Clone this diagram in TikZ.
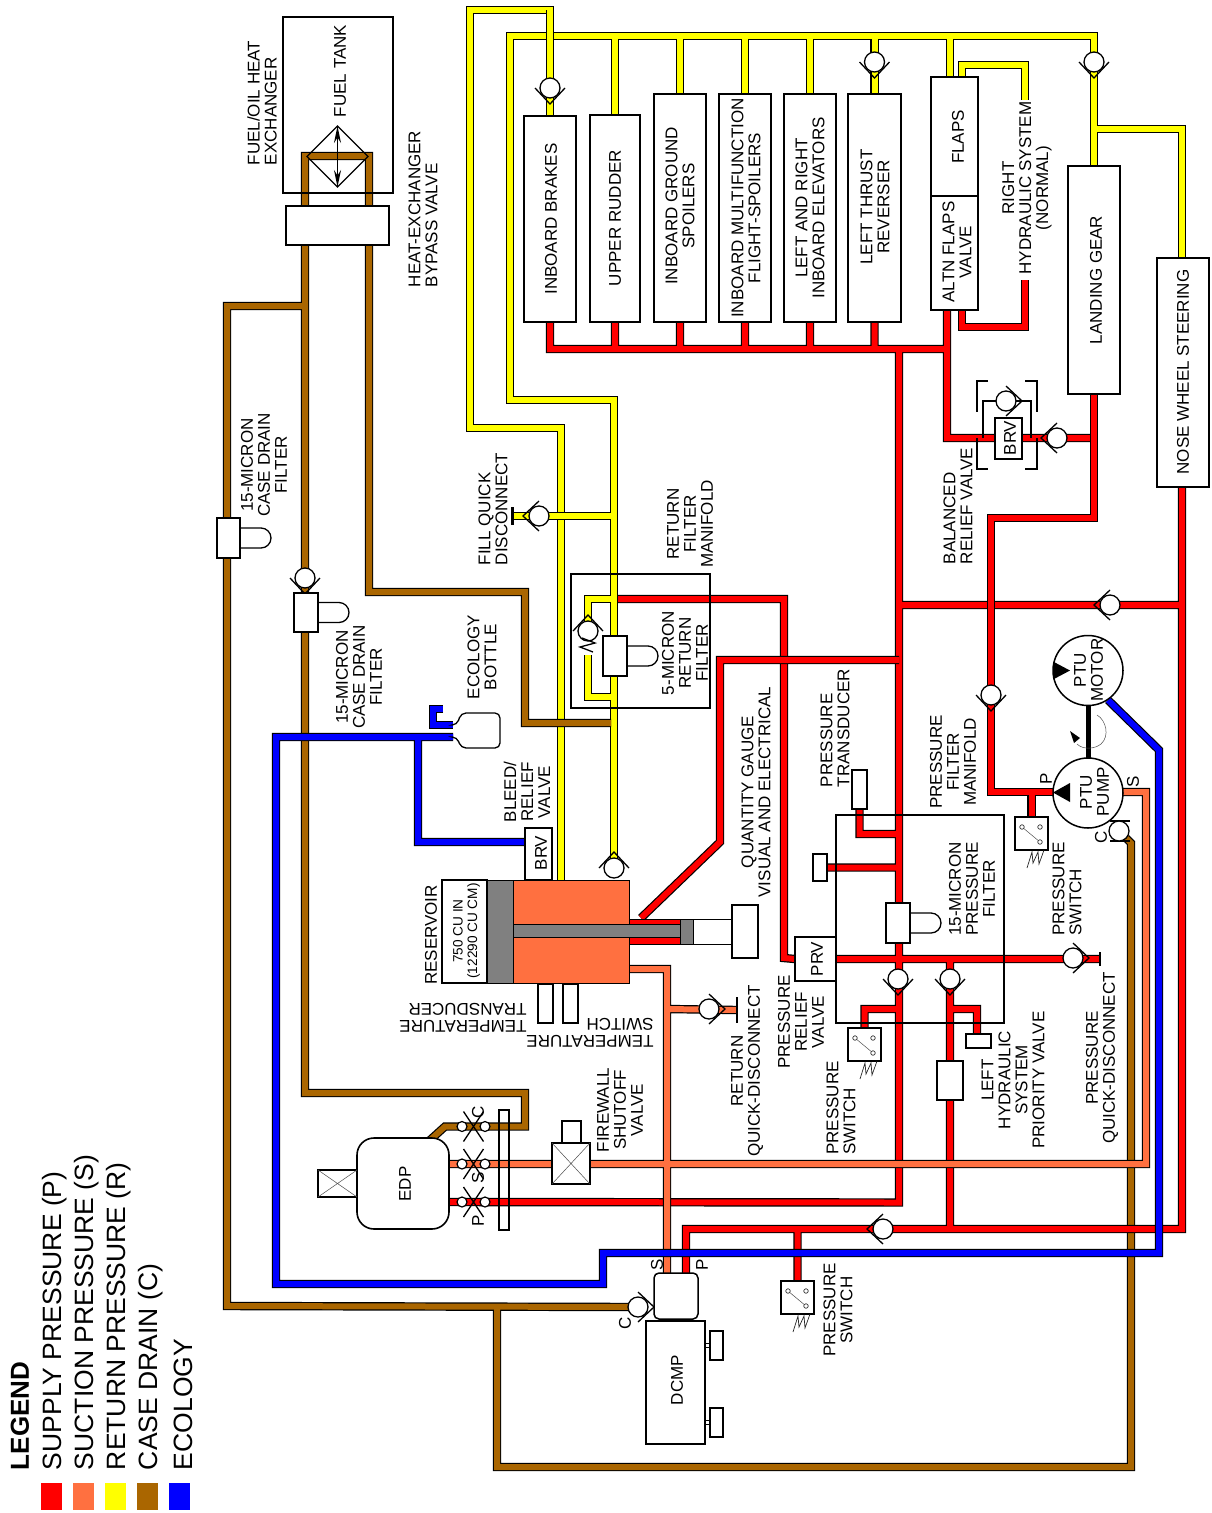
\documentclass[tikz,border=0pt]{standalone}
\usepackage{fontspec}
\setmainfont{Liberation Sans}
\usetikzlibrary{arrows.meta}
\pgfdeclarelayer{pipes}
\pgfsetlayers{pipes,main}
\definecolor{pRed}{RGB}{255,0,0}
\definecolor{pOra}{RGB}{255,112,64}
\definecolor{pYel}{RGB}{255,255,0}
\definecolor{pBro}{RGB}{170,102,0}
\definecolor{pBlu}{RGB}{0,0,255}
\definecolor{pGry}{RGB}{128,128,128}
\tikzset{
  pipeout/.style={line width=8.4pt,black,miter limit=10},
  pipein/.style={line width=6pt,miter limit=10},
  boxst/.style={draw=black,line width=1.8pt,fill=white,inner sep=0pt,outer sep=0pt,rectangle},
  frame/.style={boxst,fill=none},
  thinb/.style={boxst,line width=1.3pt},
  legendsq/.style={rectangle,inner sep=0pt,outer sep=0pt},
  valvec/.style={circle,draw=black,fill=white,line width=1.3pt,minimum size=20pt,inner sep=0pt,outer sep=0pt},
  valveline/.style={draw=black,line width=1.3pt},
  thinline/.style={draw=black,line width=1.3pt},
  hair/.style={draw=black!70,line width=.5pt},
  sprg/.style={draw=black!85,line width=.7pt},
  lbl/.style={rotate=90,inner sep=0pt,outer sep=0pt,font={\fontsize{17}{17}\selectfont}},
  flatlbl/.style={rotate=180,inner sep=0pt,outer sep=0pt,font={\fontsize{17}{17}\selectfont}},
  legtxt/.style={rotate=90,anchor=west,inner sep=0pt,outer sep=0pt,font={\fontsize{26.5}{26.5}\selectfont}},
  qdot/.style={circle,draw=black,fill=white,line width=1.2pt,minimum size=10pt,inner sep=0pt,outer sep=0pt},
}
\newcounter{labn}
\newcommand\lab[4][center]{\stepcounter{labn}\node[lbl,align=#1] (t\thelabn) at (#2,#3) {#4};}
\newcommand\bx[6][boxst]{\node[#1,minimum width={#5-#3},minimum height={#6-#4}] (#2) at ({(#3+#5)/2},{(#4+#6)/2}) {};}
\newcommand\pipe[2]{\draw[pipeout] #2; \draw[pipein,draw=#1] #2;}
\newcommand\cv[4]{\node[valvec] (#1) at (#2,#3) {};
  \draw[valveline,shift={(#1.center)},rotate=#4] (-15,0) -- (0,16) -- (15,0);}
\newcommand\filt[5]{%
  \filldraw[thinline,fill=white] (#4,{(#3+#5)/2-10}) -- ({#4+21},{(#3+#5)/2-10}) arc[start angle=90,end angle=-90,radius=10pt] -- (#4,{(#3+#5)/2+10}) -- cycle;
  \bx[thinb]{#1}{#2}{#3}{#4}{#5}}
\newcommand\psw[3]{\bx{#1}{#2}{#3}{#2+33}{#3+33}
  \begin{scope}[shift={(#2,#3)}]
  \draw[hair] (7,10) -- (25,25);
  \node[qdot,draw=black!80,line width=.7pt,minimum size=4.5pt] (#1a) at (7,10) {};
  \node[qdot,draw=black!80,line width=.7pt,minimum size=4.5pt] (#1b) at (25,10) {};
  \node[qdot,draw=black!80,line width=.7pt,minimum size=4.5pt] (#1c) at (25,25) {};
  \draw[sprg] (12,51) -- (17,35) -- (18,46) -- (23,35) -- (24,47) -- (29,33);
  \end{scope}}
\newcommand\qd[2]{\node[qdot] (#1a) at (462,#2) {}; \node[qdot] (#1b) at (485,#2) {};
  \draw[thinline] (463.5,#2-15) -- (483.5,#2+15) (483.5,#2-15) -- (463.5,#2+15);}
\begin{document}
\begin{tikzpicture}[x=1pt,y=-1pt]
\useasboundingbox (0,0) rectangle (1212,1513);
% helper rails
\coordinate (ytop) at (0,36);
\coordinate (rbus) at (0,349);
\coordinate (rhsY) at (1025,100);
\coordinate (rhsR) at (1025,280);
\coordinate (bottleA) at (453,737);
\coordinate (bottleB) at (453,725);
\coordinate (bottleTail) at (443,709);
\coordinate (retJoin) at (611,723);
\coordinate (rFrom) at (618,599);
\coordinate (resOut) at (641,918);
\coordinate (resS) at (629,969);
\coordinate (edpC) at (429,1141);
\coordinate (edpS) at (449,1164);
\coordinate (edpP) at (449,1202);
\coordinate (pumpP) at (1056,792);
\coordinate (pumpS) at (1118,792);
\coordinate (pumpC) at (1126,838);
\coordinate (motorB) at (1108,700);
% frames
\bx[frame]{tank}{283}{17}{393}{193}
\bx[frame]{retman}{571}{574}{710}{708}
\bx[frame]{presman}{836}{815}{1004}{1023}
% heat exchanger
\draw[thinline] (337.5,126) -- (368,156.5) -- (337.5,187) -- (307,156.5) -- cycle;
\draw[thinline,<->,>={Stealth[length=17pt,width=7pt]}] (337.5,126) -- (337.5,187);
\bx{bypass}{286}{206}{389}{245}
% system boxes
\bx{brakes}{524}{116}{576}{322}
\bx{rudder}{590}{115}{640}{322}
\bx{spoil}{654}{94}{706}{322}
\bx{multi}{719}{94}{771}{322}
\bx{elev}{784}{94}{836}{322}
\bx{thrust}{848}{94}{901}{322}
\bx{flaps}{931}{77}{978}{196}
\bx{altn}{931}{196}{978}{310}
\bx{gear}{1068}{166}{1120}{394}
\bx{nws}{1157}{258}{1209}{487}
% BRV group
\draw[thinline] (988,381) -- (977,381) -- (977,412) (1025,381) -- (1037,381) -- (1037,412)
  (977,438) -- (977,469) -- (988,469) (1037,438) -- (1037,469) -- (1025,469);
\draw[thinline,line width=1.6pt] (983,438) -- (983,401) -- (1031,401) -- (1031,438);
\bx{brvb}{995}{418}{1022}{459}
\cv{vBrvIn}{1006}{401}{90}
\cv{vBrvOut}{1057}{438}{270}
% check valves
\cv{vBrk}{550}{88}{0}
\cv{vThr}{874.5}{62}{0}
\cv{vGear}{1094}{62}{0}
\cv{vFill}{539}{516}{270}
\cv{vMan}{588}{631}{180}
\draw[thinline] (582,638) -- (595,643) -- (580,647) -- (593,652);
\cv{vRet}{614}{868}{180}
\cv{vCase}{305}{578}{0}
\cv{vPf}{991}{695}{0}
\cv{vA}{898}{979}{0}
\cv{vB}{950}{979}{0}
\cv{vTie}{1110}{605}{270}
\cv{vPqd}{1073}{958}{90}
\cv{vRqd}{709}{1009}{90}
\cv{vDcmp}{883}{1229}{270}
\cv{vDcase}{638}{1307}{90}
% disconnect bars
\bx[thinb,line width=1.6pt]{barFill}{512}{508}{513}{524}
\bx[thinb,line width=1.6pt]{barP}{1099.5}{953}{1100.5}{965}
\bx[thinb,line width=1.6pt]{barR}{736.5}{998}{737.5}{1022}
% filters
\filt{fCase1}{217}{518}{240}{558}
\filt{fCase2}{294}{593}{318}{632}
\filt{fRet}{603}{636}{627}{676}
\filt{fPres}{886}{903}{910}{943}
% ecology bottle
\draw[thinline,rounded corners=5pt] (453,725) -- (457,725) -- (461,713) -- (500,713) -- (500,748) -- (461,748) -- (457,737) -- (453,737);
\node[inner sep=0pt,outer sep=0pt,minimum width=0pt] (bottle) at (480,730) {};
% reservoir
\bx[thinb,line width=1.5pt]{resW}{442}{880}{487}{983}
\bx[thinb,fill=pGry,line width=1pt]{resG}{487}{880}{513}{983}
\bx[thinb,fill=pOra,line width=1pt]{resO}{513}{880}{629}{983}
\bx[thinb,fill=pRed,line width=1pt]{resRed}{629}{919}{680}{944}
\bx[thinb,fill=pGry,line width=1pt]{rod}{513}{924}{680}{937}
\bx[thinb,fill=pGry,line width=1pt]{resGb}{680}{919}{693}{944}
\bx[thinb,line width=1pt]{resWb}{693}{919}{732}{944}
\bx[thinb]{resEnd}{732}{905}{758}{958}
\bx[thinb]{brvRes}{525}{828}{552}{880}
\bx[thinb]{tt}{538}{984}{553}{1023}
\bx[thinb]{ts}{563}{984}{578}{1023}
% pressure section
\bx{prv}{795}{937}{836}{981}
\bx{ptrans}{852}{770}{867}{809}
\bx{smallA}{813}{854}{827}{881}
\bx{smallB}{966}{1034}{991}{1048}
\bx{prio}{937}{1061}{963}{1100}
\psw{swA}{1015}{817}
\psw{swB}{848}{1028}
\psw{swC}{781}{1281}
% PTU
\draw[thinline] (1130,821) -- (1110,821) (1130,841) -- (1110,841);
\node[valvec] (vPtuC) at (1119,831) {};
\node[circle,draw=black,fill=white,line width=1.5pt,minimum size=70pt,inner sep=0pt,outer sep=0pt] (motor) at (1088,670.5) {};
\node[circle,draw=black,fill=white,line width=1.5pt,minimum size=70pt,inner sep=0pt,outer sep=0pt] (pump) at (1088,793) {};
\draw[line width=5pt,black] (motor.south) -- (pump.north);
\fill[black] (1070,670.5) -- (1053,661.5) -- (1053,679.5) -- cycle;
\fill[black] (1053,792.5) -- (1070,783) -- (1070,802) -- cycle;
\draw[hair] (1097,715) .. controls (1106,720) and (1110,736) .. (1101,744) .. controls (1095,749) and (1083,750) .. (1077,744);
\fill[black] (1070,731) -- (1080,738) -- (1074,743) -- cycle;
% EDP and firewall
\node[boxst,line width=1.6pt,rounded corners=17pt,minimum width=92pt,minimum height=91pt] (edp) at (403,1183.5) {};
\bx[thinb]{edpShaft}{318}{1170}{357}{1197}
\draw[hair] (edpShaft.north west) -- (edpShaft.south east) (edpShaft.north east) -- (edpShaft.south west);
\qd{qC}{1126.5}
\qd{qS}{1164}
\qd{qP}{1202}
\bx[frame]{fwBar}{499}{1110}{509}{1230}
\bx{fwUp}{562}{1121}{581}{1143}
\bx{fwV}{552}{1143}{590}{1184}
\draw[hair] (fwV.north west) -- (fwV.south east) (fwV.north east) -- (fwV.south west);
% DCMP
\node[boxst,line width=1.5pt,rounded corners=5pt,minimum width=44pt,minimum height=46pt] (dcmpTop) at (676,1296) {};
\bx{dcmp}{646}{1321}{705}{1444}
\bx[thinb,line width=1pt]{lnkA}{705}{1343}{710}{1347}
\bx[thinb,line width=1pt]{lnkB}{705}{1420}{710}{1424}
\bx{dcA}{710}{1331}{723}{1360}
\bx{dcB}{710}{1408}{723}{1437}
% pipes
\begin{pgfonlayer}{pipes}
\pipe{pYel}{(brakes.north) -- (550,10) -- (470,10) -- (470,428) -- (561,428) -- (561,880)}
\pipe{pYel}{(vRet.center) -- (614,400) -- (510,400) -- (510,36) -- (1094,36) -- (gear.north)
  (rudder.north) -- (rudder.north |- ytop)
  (spoil.north) -- (spoil.north |- ytop)
  (multi.north) -- (multi.north |- ytop)
  (elev.north) -- (elev.north |- ytop)
  (thrust.north) -- (thrust.north |- ytop)
  ([xshift=-4.5pt]flaps.north) -- ([xshift=-4.5pt]flaps.north |- ytop)
  (1094,129) -- (1182,129) -- ([xshift=-1pt]nws.north)
  (barFill.center) -- (614,516)
  (614,599) -- (588,599) -- (vMan.center)
  (588,655) -- (588,697) -- (614,697)}
\pipe{pYel}{(brakes.north) -- (550,10)}
\pipe{pYel}{([xshift=7.5pt]flaps.north) -- (962,65) -- (1025,65) -- (rhsY)}
\pipe{pBro}{(retJoin) -- (525,723) -- (525,592) -- (369,592) -- (369,156) -- (305,156) -- (305,1093) -- (525,1093) -- (525,1126.5) -- (445,1126.5) -- (edpC)
  (305,306) -- (227,306) -- (227,1306) -- (vDcase.center)
  (497,1306) -- (497,1467) -- (1131,1467) -- (1131,843) -- (pumpC)}
\pipe{pRed}{(brakes.south) -- (brakes.south |- rbus) -- (947,349) -- (947,438) -- (1094,438)
  (rudder.south) -- (rudder.south |- rbus)
  (spoil.south) -- (spoil.south |- rbus)
  (multi.south) -- (multi.south |- rbus)
  (elev.south) -- (elev.south |- rbus)
  (thrust.south) -- (thrust.south |- rbus)
  ([xshift=-7.5pt]altn.south) -- ([xshift=-7.5pt]altn.south |- rbus)
  (899,349) -- (899,1202.5) -- (edpP)
  (899,605) -- (1182,605)
  ([xshift=-1pt]nws.south) -- (1182,1229) -- (686,1229) -- (686,1275)
  (swC.north) -- (797.5,1229)
  (950,958) -- (950,1229)
  (950,1009) -- (977,1009) -- (977,1034)
  (899,1009) -- (864.5,1009) -- (swB.north)
  (ptrans.south) -- (859.5,834) -- (899,834)
  (smallA.east) -- (899,867.5)
  (prv.east) -- (barP.center)}
\pipe{pRed}{(gear.south) -- (1094,518) -- (991,518) -- (991,792) -- (pumpP)
  (swA.north) -- (swA.north |- pumpP)}
\pipe{pRed}{([xshift=7.5pt]altn.south) -- (962,327) -- (1025,327) -- (rhsR)}
\pipe{pRed}{(rFrom) -- (784,599) -- (784,958) -- (prv.west)}
\pipe{pRed}{(899,660) -- (720,660) -- (720,842) -- (resOut)}
\pipe{pOra}{(resS) -- (667,969) -- (667,1275) (667,1009) -- (barR.center)
  (edpS) -- (1146,1164) -- (1146,792) -- (pumpS)}
\pipe{pBlu}{(motorB) -- (1159,750) -- (1159,1253) -- (603,1253) -- (603,1284) -- (276,1284) -- (276,737) -- (bottleA)
  (418,737) -- (418,842) -- ([yshift=12pt]brvRes.west)}
\pipe{pBlu}{(bottleTail) -- (433,709) -- (433,725) -- (bottleB)}
\end{pgfonlayer}
% labels
\lab[left]{262}{103}{FUEL/OIL HEAT\\EXCHANGER}
\lab{340}{71}{FUEL TANK}
\lab[left]{423}{209}{HEAT-EXCHANGER\\BYPASS VALVE}
\lab{551}{219}{INBOARD BRAKES}
\lab{615}{218}{UPPER RUDDER}
\lab{680}{206}{INBOARD GROUND\\SPOILERS}
\lab{746}{208}{INBOARD MULTIFUNCTION\\FLIGHT-SPOILERS}
\lab{810}{208}{LEFT AND RIGHT\\INBOARD ELEVATORS}
\lab{875}{207}{LEFT THRUST\\REVERSER}
\lab{958}{137}{FLAPS}
\lab{957}{252}{ALTN FLAPS\\VALVE}
\lab{1027}{188}{RIGHT\\HYDRAULIC SYSTEM\\(NORMAL)}
\lab{1096}{280}{LANDING GEAR}
\lab{1183}{372}{NOSE WHEEL STEERING}
\lab{1010}{438}{BRV}
\lab[left]{958}{506}{BALANCED\\RELIEF VALVE}
\lab[left]{493}{509}{FILL QUICK\\DISCONNECT}
\lab{690}{524}{RETURN\\FILTER\\MANIFOLD}
\lab{264}{465}{15-MICRON\\CASE DRAIN\\FILTER}
\lab{359}{677}{15-MICRON\\CASE DRAIN\\FILTER}
\lab{482}{657}{ECOLOGY\\BOTTLE}
\lab{685}{653}{5-MICRON\\RETURN\\FILTER}
\lab{527}{792}{BLEED/\\RELIEF\\VALVE}
\lab{541}{853}{BRV}
\lab{756}{792}{QUANTITY GAUGE\\VISUAL AND ELECTRICAL}
\lab{431}{935}{RESERVOIR}
\node[rotate=90,inner sep=0pt,align=center,font={\fontsize{13.6}{14.5}\selectfont}] (resCap) at (466.5,931) {750 CU IN\\(12290 CU CM)};
\node[flatlbl,align=left] (ttLab) at (463,1018) {TEMPERATURE\\TRANSDUCER};
\node[flatlbl,align=left] (tsLab) at (590,1033) {TEMPERATURE\\SWITCH};
\lab{747}{1071}{RETURN\\QUICK-DISCONNECT}
\lab{801}{1022}{PRESSURE\\RELIEF\\VALVE}
\lab{817}{959}{PRV}
\lab[left]{835}{728}{PRESSURE\\TRANSDUCER}
\lab{972}{889}{15-MICRON\\PRESSURE\\FILTER}
\lab{953}{762}{PRESSURE\\FILTER\\MANIFOLD}
\lab{1088.5}{670}{PTU\\MOTOR}
\lab{1094.5}{792}{PTU\\PUMP}
\lab[left]{1067}{889}{PRESSURE\\SWITCH}
\lab{1102}{1058}{PRESSURE\\QUICK-DISCONNECT}
\lab{1013}{1080}{LEFT\\HYDRAULIC\\SYSTEM\\PRIORITY VALVE}
\lab[left]{841}{1108}{PRESSURE\\SWITCH}
\lab{620}{1110}{FIREWALL\\SHUTOFF\\VALVE}
\lab{405}{1184}{EDP}
\lab{677}{1380}{DCMP}
\lab{838}{1310}{PRESSURE\\SWITCH}
\lab{1046}{779}{P}
\lab{1133}{782}{S}
\lab{1101}{837}{C}
\lab{478}{1112}{C}
\lab{478}{1178}{S}
\lab{478}{1221}{P}
\lab{657}{1265}{S}
\lab{702}{1265}{P}
\lab{625}{1323}{C}
% legend
\node[legtxt,font={\fontsize{26}{26}\selectfont\bfseries}] (lgT) at (20,1470) {LEGEND};
\node[legtxt] (lg1) at (55,1470) {SUPPLY PRESSURE (P)};
\node[legtxt] (lg2) at (87,1470) {SUCTION PRESSURE (S)};
\node[legtxt] (lg3) at (119,1470) {RETURN PRESSURE (R)};
\node[legtxt] (lg4) at (151,1470) {CASE DRAIN (C)};
\node[legtxt] (lg5) at (183,1470) {ECOLOGY};
\bx[legendsq,fill=pRed]{sq1}{41}{1483}{62}{1510}
\bx[legendsq,fill=pOra]{sq2}{73}{1483}{94}{1510}
\bx[legendsq,fill=pYel]{sq3}{105}{1483}{126}{1510}
\bx[legendsq,fill=pBro]{sq4}{137}{1483}{158}{1510}
\bx[legendsq,fill=pBlu]{sq5}{169}{1483}{190}{1510}
\end{tikzpicture}
\end{document}
